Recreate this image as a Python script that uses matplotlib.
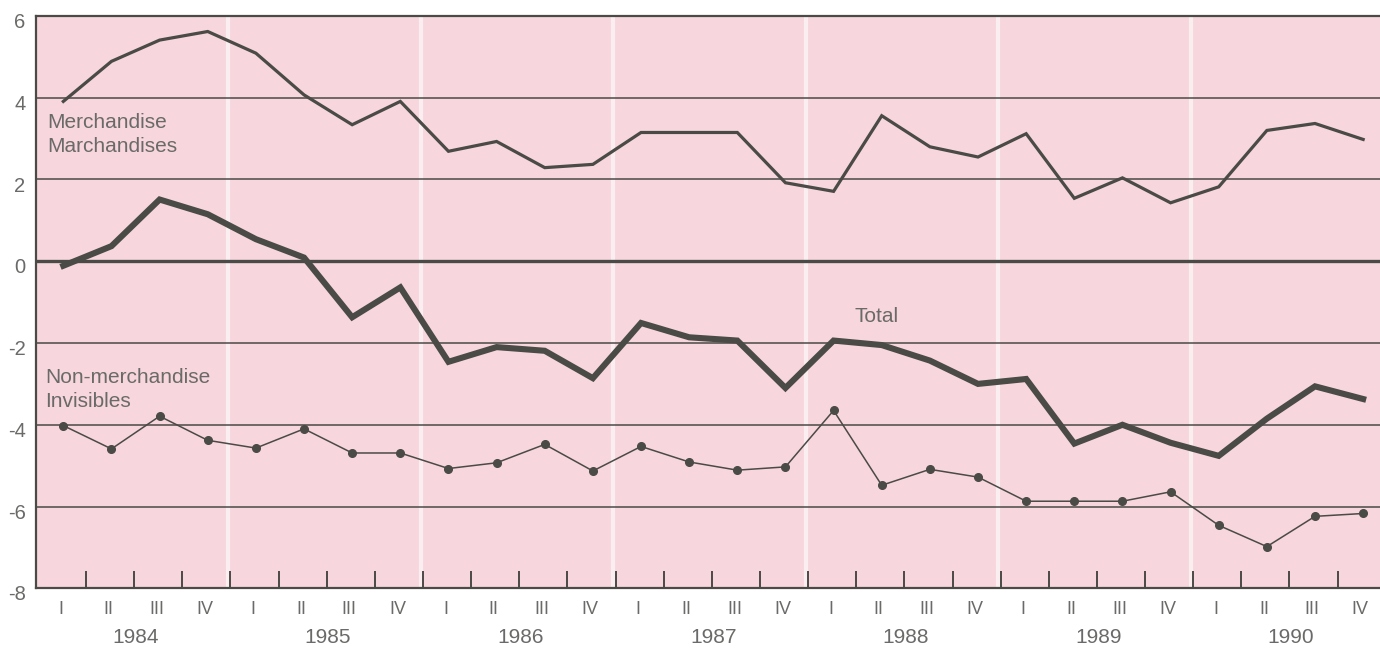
import numpy as np
import matplotlib
matplotlib.use("Agg")
import matplotlib.pyplot as plt
from matplotlib.transforms import blended_transform_factory

plt.rcParams['font.family'] = ['Liberation Sans', 'DejaVu Sans']

years = [1984, 1985, 1986, 1987, 1988, 1989, 1990]
quarters = ["I", "II", "III", "IV"]

merchandise = [3.91, 4.89, 5.41, 5.62, 5.09, 4.07, 3.34, 3.91, 2.69, 2.93, 2.29, 2.37, 3.15, 3.15,
               3.15, 1.92, 1.71, 3.56, 2.80, 2.55, 3.12, 1.54, 2.04, 1.43, 1.82, 3.20, 3.37, 2.98]
total = [-0.11, 0.37, 1.51, 1.15, 0.54, 0.09, -1.37, -0.64, -2.46, -2.10, -2.19, -2.86, -1.51, -1.86,
         -1.94, -3.10, -1.94, -2.05, -2.43, -3.00, -2.88, -4.46, -4.00, -4.44, -4.76, -3.85, -3.06, -3.37]
non_merch = [-4.02, -4.59, -3.79, -4.38, -4.57, -4.10, -4.69, -4.69, -5.07, -4.93, -4.48, -5.13, -4.53, -4.91,
             -5.11, -5.03, -3.65, -5.48, -5.09, -5.28, -5.87, -5.87, -5.87, -5.64, -6.46, -6.98, -6.24, -6.17]

yticks = [6, 4, 2, 0, -2, -4, -6, -8]

pink = "#f7d6dd"
ink = "#4a4a46"
txt = "#6a6a68"

fig = plt.figure(figsize=(13.8, 6.52), dpi=100)
ax = fig.add_axes([0.026, 0.0977, 0.974, 0.8778])
ax.set_facecolor(pink)

n = len(merchandise)
x = np.arange(n)
ax.set_xlim(-0.57, 27.35)
ax.set_ylim(-8, 6)

# faint white year separators
for k in range(1, len(years)):
    ax.axvline(4 * k - 0.58, color="white", lw=3, alpha=0.6, zorder=1)

# grid lines
for v in yticks[1:-1]:
    ax.axhline(v, color=ink, lw=2.4 if v == 0 else 1.1, zorder=2)

ax.plot(x, merchandise, color=ink, lw=2.3, zorder=3, solid_joinstyle="miter")
ax.plot(x, total, color=ink, lw=4.4, zorder=4, solid_joinstyle="miter")
ax.plot(x, non_merch, color=ink, lw=1.1, marker="o", ms=5.5, zorder=3)

for s in ["top", "left", "bottom"]:
    ax.spines[s].set_color(ink)
    ax.spines[s].set_linewidth(1.6)
ax.spines["right"].set_visible(False)

# bottom ticks between quarters
ax.set_xticks(x[:-1] + 0.47)
ax.set_xticklabels([])
ax.tick_params(axis="x", direction="in", length=12, width=1.4, color=ink)
ax.set_yticks([])

trans = blended_transform_factory(ax.transData, ax.transAxes)
for i in range(n):
    ax.text(i - 0.06, -0.037, quarters[i % 4], transform=trans, ha="center", va="center",
            fontsize=13, color=txt)
for k, yr in enumerate(years):
    ax.text(4 * k + 1.5, -0.086, str(yr), transform=trans, ha="center", va="center",
            fontsize=15, color=txt)

ytrans = blended_transform_factory(fig.transFigure, ax.transData)
for v in yticks:
    ax.text(0.0185, v - 0.16, str(v), transform=ytrans, ha="right", va="center",
            fontsize=14.5, color=txt)

ax.text(-0.33, 3.1, "Merchandise\nMarchandises", fontsize=15, color=txt, ha="left", va="center",
        linespacing=1.35)
ax.text(16.9, -1.36, "Total", fontsize=15, color=txt, ha="center", va="center")
ax.text(-0.38, -3.13, "Non-merchandise\nInvisibles", fontsize=15, color=txt, ha="left", va="center",
        linespacing=1.35)

fig.savefig("out.png", dpi=100, facecolor="white")
